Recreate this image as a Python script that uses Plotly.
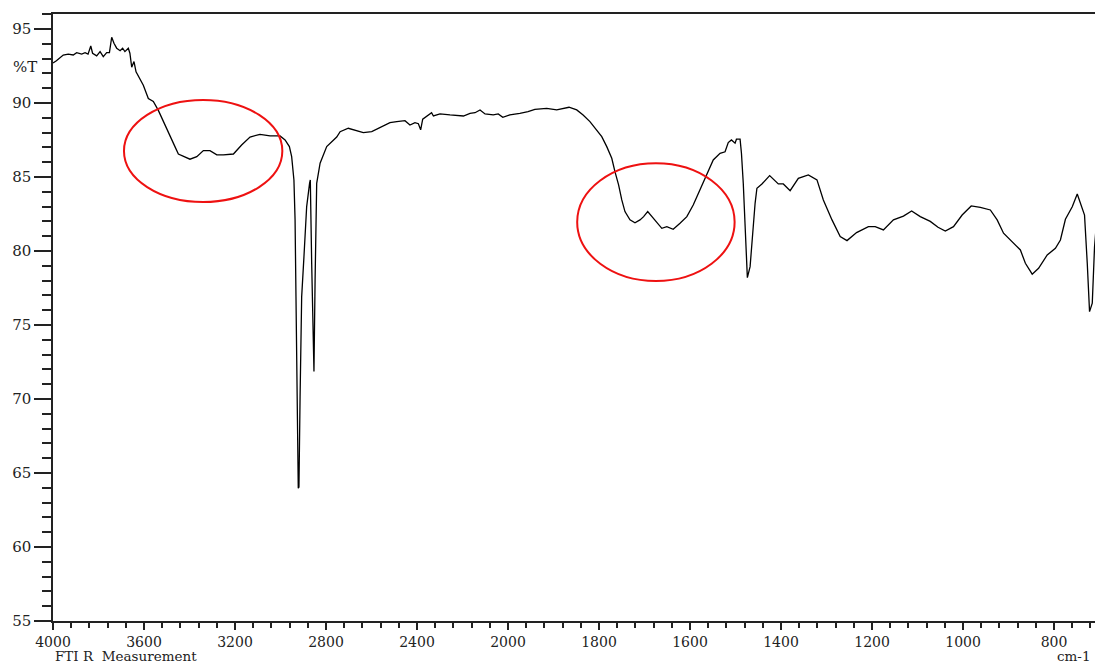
import numpy as np
import plotly.graph_objects as go

# Wavenumber (cm-1) and transmittance (%T)
wavenumber = [
    4000, 3985, 3955, 3933, 3911, 3896, 3874, 3859, 3846, 3834, 3826, 3808, 3793, 3779, 3764,
    3752, 3742, 3732, 3720, 3705, 3694, 3684, 3669, 3662, 3654, 3644, 3635, 3625, 3603, 3581,
    3559, 3537, 3508, 3486, 3464, 3449, 3427, 3398, 3368, 3339, 3310, 3280, 3251, 3207, 3171,
    3134, 3090, 3046, 3002, 2980, 2961, 2951, 2941, 2936, 2932, 2926, 2922, 2919, 2914, 2907,
    2897, 2885, 2872, 2869, 2863, 2856, 2853, 2848, 2841, 2826, 2797, 2753, 2738, 2702, 2673,
    2636, 2599, 2563, 2519, 2489, 2453, 2431, 2409, 2394, 2384, 2375, 2358, 2336, 2328, 2299,
    2255, 2196, 2167, 2145, 2123, 2101, 2065, 2043, 2023, 1996, 1974, 1956, 1941, 1915, 1893,
    1879, 1866, 1849, 1835, 1820, 1802, 1794, 1783, 1772, 1765, 1757, 1750, 1743, 1732, 1721,
    1710, 1702, 1693, 1684, 1673, 1662, 1651, 1637, 1622, 1607, 1593, 1578, 1563, 1549, 1534,
    1523, 1516, 1509, 1501, 1498, 1490, 1487, 1483, 1479, 1474, 1468, 1462, 1457, 1453, 1442,
    1425, 1406, 1395, 1380, 1362, 1340, 1321, 1307, 1288, 1270, 1255, 1234, 1208, 1193, 1175,
    1153, 1131, 1113, 1094, 1072, 1055, 1039, 1021, 1002, 982, 962, 940, 925, 911, 892,
    874, 863, 848, 834, 815, 797, 786, 775, 760, 749, 742, 733, 727, 722, 716,
    711, 707,
]
transmittance = [
    92.70, 92.85, 93.24, 93.30, 93.24, 93.40, 93.30, 93.40, 93.30, 93.85, 93.36, 93.18, 93.47, 93.13, 93.40,
    93.40, 94.44, 94.03, 93.70, 93.53, 93.70, 93.47, 93.70, 93.36, 92.41, 92.80, 92.10, 91.80, 91.20, 90.30,
    90.10, 89.50, 88.50, 87.70, 87.05, 86.55, 86.40, 86.20, 86.37, 86.78, 86.78, 86.49, 86.49, 86.55, 87.16,
    87.70, 87.88, 87.77, 87.77, 87.50, 87.05, 86.37, 84.80, 82.10, 76.90, 70.15, 63.97, 64.05, 70.15, 76.90,
    79.60, 83.00, 84.60, 84.80, 79.17, 72.86, 71.85, 78.04, 84.57, 85.93, 87.05, 87.70, 88.06, 88.29, 88.18,
    88.00, 88.06, 88.36, 88.67, 88.74, 88.80, 88.51, 88.67, 88.60, 88.18, 88.90, 89.07, 89.34, 89.12, 89.26,
    89.19, 89.12, 89.30, 89.34, 89.53, 89.26, 89.19, 89.26, 89.03, 89.19, 89.30, 89.41, 89.57, 89.64, 89.53,
    89.64, 89.71, 89.53, 89.19, 88.74, 88.06, 87.72, 87.05, 86.26, 85.36, 84.46, 83.45, 82.66, 82.10, 81.91,
    82.10, 82.32, 82.66, 82.32, 81.87, 81.53, 81.64, 81.46, 81.87, 82.32, 83.10, 84.12, 85.14, 86.15, 86.60,
    86.70, 87.32, 87.50, 87.28, 87.55, 87.55, 86.60, 84.57, 81.20, 78.20, 78.94, 81.64, 83.22, 84.24, 84.53,
    85.09, 84.53, 84.53, 84.07, 84.91, 85.14, 84.80, 83.45, 82.10, 80.97, 80.70, 81.24, 81.64, 81.64, 81.42,
    82.10, 82.36, 82.70, 82.32, 82.00, 81.60, 81.35, 81.64, 82.43, 83.04, 82.95, 82.77, 82.10, 81.20, 80.63,
    80.07, 79.17, 78.43, 78.83, 79.73, 80.18, 80.74, 82.14, 82.99, 83.85, 83.22, 82.42, 79.17, 75.90, 76.47,
    80.29, 81.80,
]

x_tick_values = [4000, 3600, 3200, 2800, 2400, 2000, 1800, 1600, 1400, 1200, 1000, 800]
y_tick_values = [55, 60, 65, 70, 75, 80, 85, 90, 95]


def to_axis(wn):
    """FTIR axis with a scale change at 2000 cm-1 (400 cm-1 per unit above, 200 below)."""
    wn = np.asarray(wn, dtype=float)
    return np.where(wn >= 2000, (4000 - wn) / 400.0, 5 + (2000 - wn) / 200.0)


FONT = "DejaVu Serif"
INK = "#222"

fig = go.Figure()
fig.add_trace(go.Scatter(
    x=to_axis(wavenumber), y=transmittance, mode="lines",
    line=dict(color="black", width=1.3), hoverinfo="skip", showlegend=False,
))

# red highlight ellipses
fig.add_shape(type="circle", xref="x", yref="y", x0=0.78, x1=2.52, y0=83.31, y1=90.2,
              line=dict(color="#ee1111", width=2))
fig.add_shape(type="circle", xref="x", yref="y", x0=5.76, x1=7.49, y0=77.97, y1=85.93,
              line=dict(color="#ee1111", width=2))

fig.update_layout(
    width=1095, height=664,
    margin=dict(l=53, r=0, t=14, b=43),
    paper_bgcolor="white", plot_bgcolor="white",
    font=dict(family=FONT, size=15, color=INK),
    xaxis=dict(
        range=[0, 11.45],
        tickmode="array",
        tickvals=to_axis(x_tick_values).tolist(),
        ticktext=[str(v) for v in x_tick_values],
        ticks="outside", ticklen=7, tickwidth=1.5, tickcolor=INK,
        minor=dict(dtick=0.2, tick0=0, ticks="outside", ticklen=5, tickwidth=1.5, tickcolor=INK),
        showline=True, linecolor=INK, linewidth=1.5, mirror=True,
        showgrid=False, zeroline=False,
        tickfont=dict(family=FONT, size=14, color=INK),
    ),
    yaxis=dict(
        range=[55, 96.01],
        tickmode="array", tickvals=y_tick_values,
        ticks="outside", ticklen=17, tickwidth=1.5, tickcolor=INK,
        minor=dict(dtick=1, tick0=55, ticks="outside", ticklen=9, tickwidth=1.5, tickcolor=INK),
        showline=True, linecolor=INK, linewidth=1.5,
        showgrid=False, zeroline=False,
        tickfont=dict(family=FONT, size=15, color=INK),
    ),
    annotations=[
        dict(text="%T", xref="paper", yref="y", x=-0.027, y=92.4, showarrow=False,
             xanchor="center", yanchor="middle", font=dict(family=FONT, size=15, color=INK)),
        dict(text="FTI R\u00a0 Measurement", xref="paper", yref="paper", x=0.0, y=-0.058,
             showarrow=False, xanchor="left", yanchor="middle",
             font=dict(family=FONT, size=13.5, color=INK)),
        dict(text="cm-1", xref="paper", yref="paper", x=0.998, y=-0.058, showarrow=False,
             xanchor="right", yanchor="middle", font=dict(family=FONT, size=13.5, color=INK)),
    ],
)

fig.write_html(
    "out.html",
    config={"displayModeBar": False},
    post_script="document.body.style.margin='0';document.body.style.overflow='hidden';",
)
